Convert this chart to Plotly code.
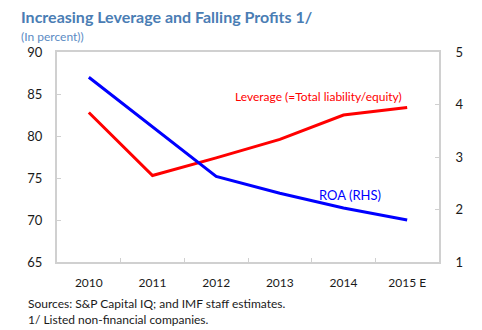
import plotly.graph_objects as go

# Chart data
years = ["2010", "2011", "2012", "2013", "2014", "2015 E"]
leverage = [82.8, 75.3, 77.4, 79.6, 82.5, 83.4]   # total liability / equity, left axis
roa = [4.52, 3.57, 2.63, 2.31, 2.03, 1.80]        # return on assets, right axis

left_ticks = [65, 70, 75, 80, 85, 90]
right_ticks = [1, 2, 3, 4, 5]

W, H = 482, 330
L, R, T, B = 57, 439, 52, 262  # plot area in pixels

FONT = "Lato"
AXIS_GRAY = "#d0d0d0"


def px(x, y):
    """Pixel position -> paper coordinates."""
    return (x - L) / (R - L), (B - y) / (B - T)


fig = go.Figure()
fig.add_trace(go.Scatter(x=years, y=leverage, mode="lines",
                         line=dict(color="#ff0000", width=3),
                         name="Leverage", yaxis="y"))
fig.add_trace(go.Scatter(x=years, y=roa, mode="lines",
                         line=dict(color="#0000ff", width=3),
                         name="ROA", yaxis="y2"))

axis_common = dict(showgrid=False, zeroline=False, showline=True,
                   linecolor=AXIS_GRAY, linewidth=2, ticks="inside",
                   ticklen=4, tickwidth=1, tickcolor=AXIS_GRAY)

fig.update_layout(
    width=W, height=H,
    margin=dict(l=L, r=W - R, t=T, b=H - B),
    paper_bgcolor="white", plot_bgcolor="white",
    showlegend=False,
    xaxis=dict(**axis_common, type="category", tickson="boundaries",
               range=[-0.5, len(years) - 0.5], mirror=True,
               ticklabelstandoff=9,
               tickfont=dict(family=FONT, size=12, color="#1a1a1a")),
    yaxis=dict(**axis_common, range=[65, 90], tickvals=left_ticks,
               ticklabelstandoff=10,
               tickfont=dict(family=FONT, size=13, color="#1a1a1a")),
    yaxis2=dict(**axis_common, range=[1, 5], tickvals=right_ticks,
                overlaying="y", side="right", ticklabelstandoff=12,
                tickfont=dict(family=FONT, size=13, color="#1a1a1a")),
)

def note(text, x, y, size, color, xanchor="left", bold=False):
    xp, yp = px(x, y)
    fig.add_annotation(text=f"<b>{text}</b>" if bold else text,
                       xref="paper", yref="paper", x=xp, y=yp,
                       xanchor=xanchor, yanchor="middle", showarrow=False,
                       font=dict(family=FONT, size=size, color=color))

note("Increasing Leverage and Falling Profits 1/", 19, 17, 16, "#4a7db4", bold=True)
note("(In percent))", 19, 36, 12, "#5b8bc4")
note("Leverage (=Total liability/equity)", 318, 96, 12, "#ff0000", xanchor="center")
note("ROA (RHS)", 350, 195, 13, "#0000ff", xanchor="center")
note("Sources: S&P Capital IQ; and IMF staff estimates.", 26, 303, 12, "#1a1a1a")
note("1/ Listed non-financial companies.", 26, 319, 12, "#1a1a1a")

fig.write_html("out.html")
